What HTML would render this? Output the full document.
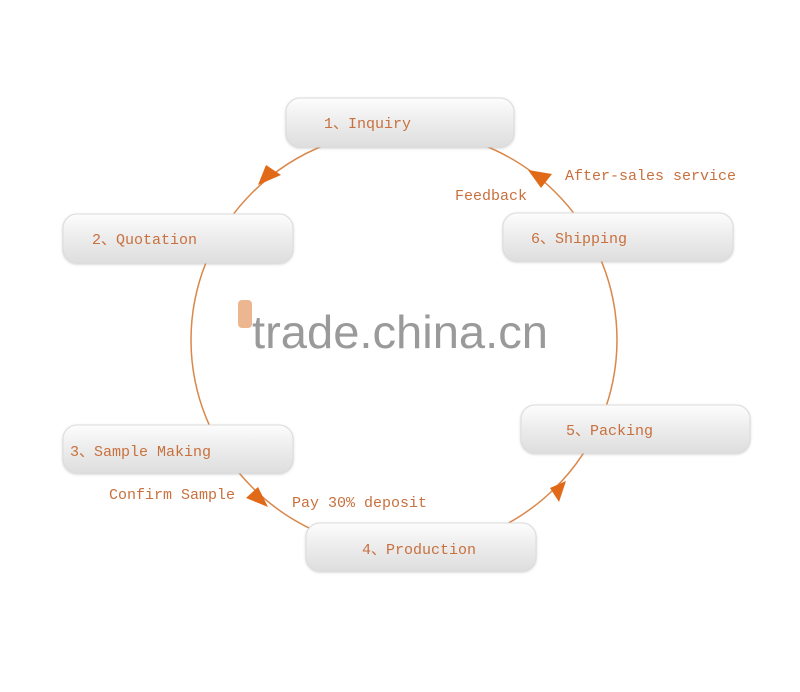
<!DOCTYPE html>
<html><head><meta charset="utf-8"><style>
html,body{margin:0;padding:0;background:#fff;}
svg{display:block;}
text{font-family:"Liberation Mono","DejaVu Sans Mono",monospace;fill:#c8703e;font-size:15px;}
</style></head><body>
<svg width="800" height="692" viewBox="0 0 800 692" xmlns="http://www.w3.org/2000/svg">
<defs>
<linearGradient id="g" x1="0" y1="0" x2="0" y2="1">
<stop offset="0" stop-color="#fdfdfd"/><stop offset="0.5" stop-color="#ececec"/><stop offset="1" stop-color="#dedede"/>
</linearGradient>
<filter id="s" x="-10%" y="-30%" width="120%" height="160%"><feDropShadow dx="0" dy="1" stdDeviation="1.2" flood-color="#999" flood-opacity="0.45"/></filter>
</defs>
<ellipse cx="404" cy="340" rx="213" ry="210" fill="none" stroke="#d9874a" stroke-width="1.5"/>
<rect x="238" y="300" width="14" height="28" rx="4" fill="#e7a574" opacity="0.8"/>
<text x="252" y="348" textLength="296" lengthAdjust="spacingAndGlyphs" style="font-family:'Liberation Sans',sans-serif;font-size:46px;fill:#9a9a9a;">trade.china.cn</text>
<polygon points="258,185 281,175 266,165" fill="#e06a18"/>
<polygon points="528,170 552,174 541,188" fill="#e06a18"/>
<polygon points="268,507 246,498 258,487" fill="#e06a18"/>
<polygon points="566,481 550,488 559,502" fill="#e06a18"/>
<g filter="url(#s)" fill="url(#g)" stroke="#dcdcdc" stroke-width="1">
<rect x="286" y="98" width="228" height="49" rx="14"/>
<rect x="63" y="214" width="230" height="49" rx="14"/>
<rect x="503" y="213" width="230" height="48" rx="14"/>
<rect x="521" y="405" width="229" height="48" rx="14"/>
<rect x="63" y="425" width="230" height="48" rx="14"/>
<rect x="306" y="523" width="230" height="48" rx="14"/>
</g>
<text x="324" y="128">1、Inquiry</text>
<text x="92" y="244">2、Quotation</text>
<text x="531" y="243">6、Shipping</text>
<text x="566" y="435">5、Packing</text>
<text x="70" y="456">3、Sample Making</text>
<text x="362" y="554">4、Production</text>
<text x="565" y="180">After-sales service</text>
<text x="455" y="200">Feedback</text>
<text x="109" y="499">Confirm Sample</text>
<text x="292" y="507">Pay 30% deposit</text>
</svg>
</body></html>
